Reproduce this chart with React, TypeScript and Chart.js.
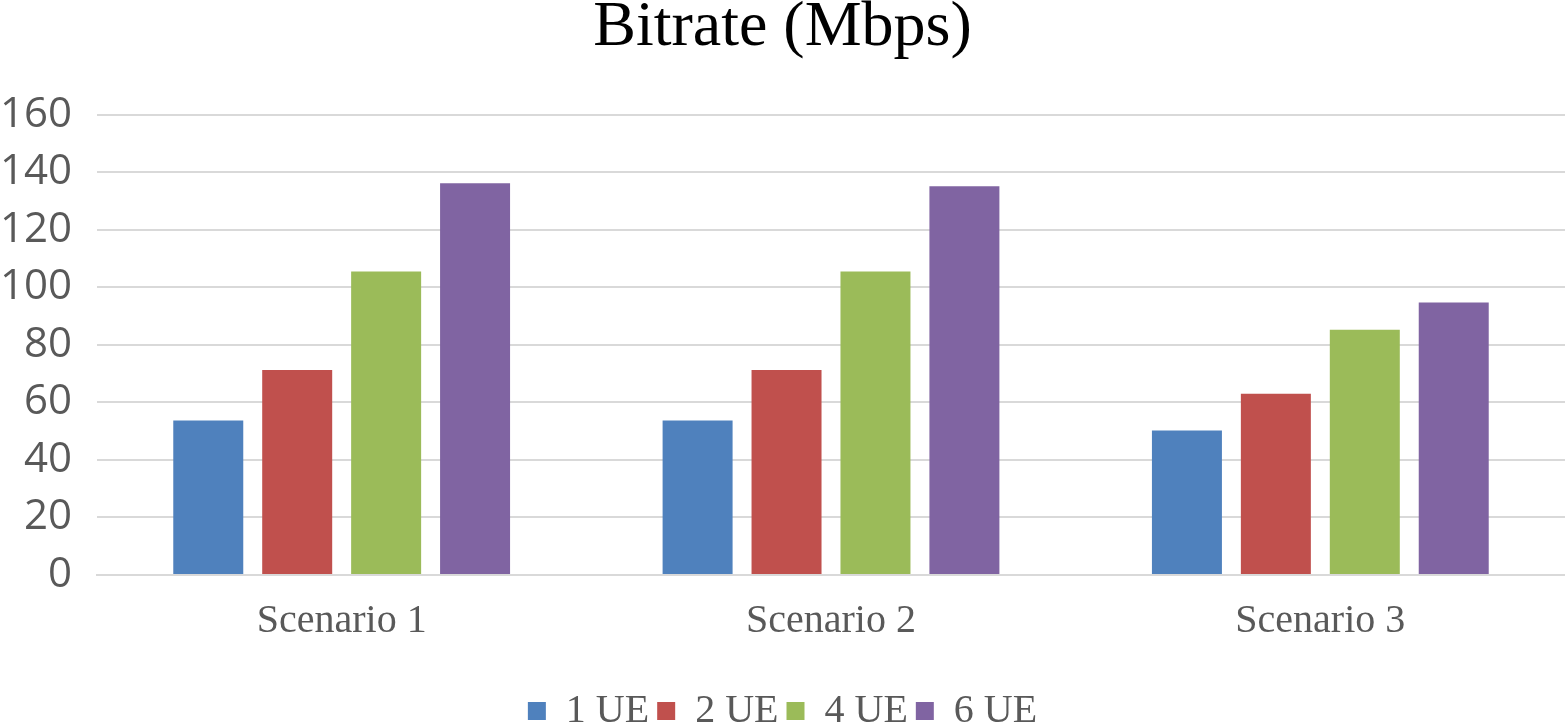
import React, { useEffect, useRef } from "react";
import { Chart, registerables } from "chart.js";

Chart.register(...registerables);

const categories = ["Scenario 1", "Scenario 2", "Scenario 3"];
const seriesNames = ["1 UE", "2 UE", "4 UE", "6 UE"];
const ue1 = [53.7, 53.7, 50.2];
const ue2 = [71.3, 71.3, 63.0];
const ue4 = [105.5, 105.5, 85.3];
const ue6 = [136.2, 135.2, 94.7];
const colors = ["#4F81BD", "#C0504D", "#9BBB59", "#8064A2"];
const yTicks = [0, 20, 40, 60, 80, 100, 120, 140, 160];

export default function App() {
  const ref = useRef<HTMLCanvasElement | null>(null);
  useEffect(() => {
    document.body.style.margin = "0";
    const values = [ue1, ue2, ue4, ue6];
    const chart = new Chart(ref.current!, {
      type: "bar",
      data: {
        labels: categories,
        datasets: seriesNames.map((n, i) => ({
          label: n,
          data: values[i],
          backgroundColor: colors[i],
          categoryPercentage: 0.727,
          barPercentage: 0.787,
        })),
      },
      options: {
        animation: false,
        responsive: false,
        layout: { padding: { left: 0, right: 0, top: 0, bottom: -16 } },
        plugins: {
          title: {
            display: true,
            text: "Bitrate (Mbps)",
            color: "#000000",
            font: { family: "Liberation Serif", size: 64, weight: "normal" },
            padding: { top: -10, bottom: 48 },
          },
          legend: {
            position: "bottom",
            labels: {
              color: "#595959",
              font: { family: "Liberation Serif", size: 40 },
              boxWidth: 18,
              boxHeight: 18,
              padding: 8,
            },
          },
          tooltip: { enabled: false },
        },
        scales: {
          x: {
            grid: { display: false },
            border: { color: "#d9d9d9", width: 2 },
            afterFit: (scale: any) => {
              scale.height += 24;
            },
            ticks: {
              color: "#595959",
              font: { family: "Liberation Serif", size: 40 },
              padding: 14,
            },
          },
          y: {
            min: 0,
            max: 160,
            afterBuildTicks: (axis: any) => {
              axis.ticks = yTicks.map((v) => ({ value: v }));
            },
            afterFit: (scale: any) => {
              scale.width = 97;
            },
            grid: { color: "#d9d9d9", lineWidth: 2, drawTicks: false },
            border: { display: false },
            ticks: {
              color: "#595959",
              font: { family: "Open Sans", size: 42 },
              padding: 25,
            },
          },
        },
      },
    });
    return () => chart.destroy();
  }, []);
  return <canvas ref={ref} width={1565} height={725} style={{ display: "block" }} />;
}
